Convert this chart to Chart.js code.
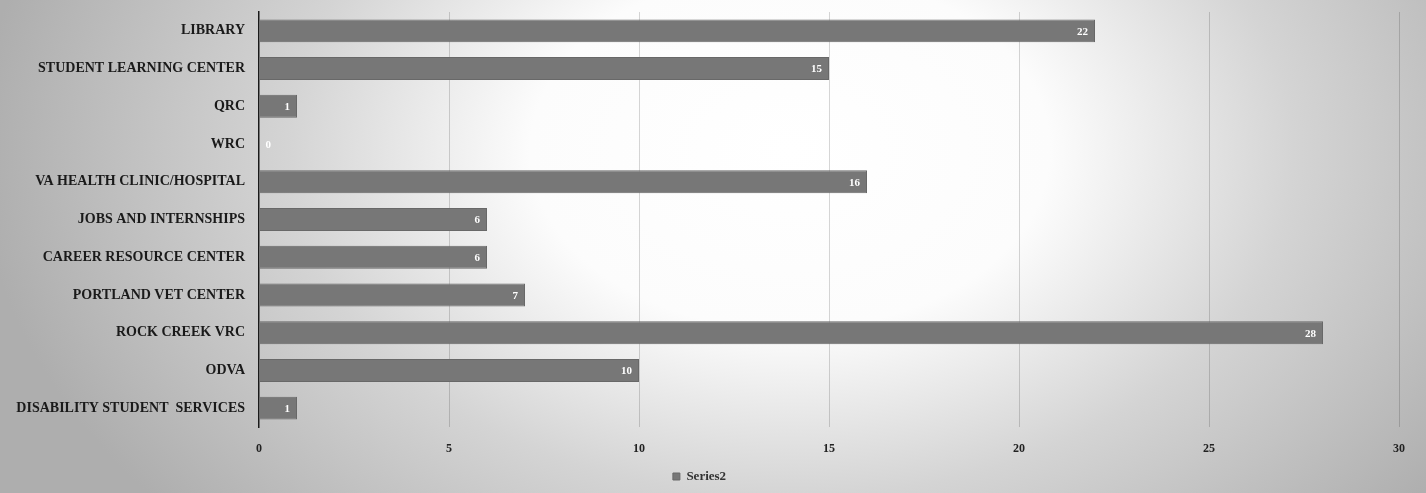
<!DOCTYPE html>
<html>
<head>
<meta charset="utf-8">
<script src="https://cdn.jsdelivr.net/npm/chart.js@4"></script>
<style>
  body { margin: 0; background: #b4b4b4; }
  #wrap { width: 1426px; height: 493px; }
</style>
</head>
<body>
<div id="wrap"><canvas id="BarChart"></canvas></div>
<script>
const categories = [
  "LIBRARY",
  "STUDENT LEARNING CENTER",
  "QRC",
  "WRC",
  "VA HEALTH CLINIC/HOSPITAL",
  "JOBS AND INTERNSHIPS",
  "CAREER RESOURCE CENTER",
  "PORTLAND VET CENTER",
  "ROCK CREEK VRC",
  "ODVA",
  "DISABILITY STUDENT  SERVICES",
];
const series2 = [22, 15, 1, 0, 16, 6, 6, 7, 28, 10, 1];
const xTicks = [0, 5, 10, 15, 20, 25, 30];

const serif = "'Liberation Serif', 'DejaVu Serif', serif";

// soft grey backdrop with a bright spot behind the upper middle of the plot
const backdrop = {
  id: "backdrop",
  beforeDraw(chart) {
    const ctx = chart.ctx;
    const w = chart.width, h = chart.height;
    ctx.save();
    ctx.fillStyle = "#aeaeae";
    ctx.fillRect(0, 0, w, h);
    ctx.translate(790, 150);
    ctx.scale(1.45, 1);
    const g = ctx.createRadialGradient(0, 0, 0, 0, 0, 560);
    g.addColorStop(0, "#ffffff");
    g.addColorStop(0.32, "#fcfcfc");
    g.addColorStop(0.62, "#d4d4d4");
    g.addColorStop(1, "#aeaeae");
    ctx.fillStyle = g;
    ctx.fillRect(-800, -200, 1600, 700);
    ctx.restore();
  },
};

// value labels inside the end of each bar
const barValues = {
  id: "barValues",
  afterDatasetsDraw(chart) {
    const ctx = chart.ctx;
    const meta = chart.getDatasetMeta(0);
    const base = chart.scales.x.getPixelForValue(0);
    ctx.save();
    ctx.font = "bold 11px " + serif;
    ctx.fillStyle = "#ffffff";
    ctx.textAlign = "right";
    ctx.textBaseline = "middle";
    meta.data.forEach((bar, i) => {
      const x = Math.max(bar.x - 7, base + 12);
      ctx.fillText(String(series2[i]), x, bar.y + 1);
    });
    ctx.restore();
  },
};

const ctx = document.getElementById("BarChart").getContext("2d");
new Chart(ctx, {
  type: "bar",
  data: {
    labels: categories,
    datasets: [
      {
        label: "Series2",
        data: series2,
        backgroundColor: "#777777",
        borderColor: "#686868",
        borderWidth: 1,
        barPercentage: 0.78,
        categoryPercentage: 0.78,
      },
    ],
  },
  options: {
    indexAxis: "y",
    responsive: true,
    maintainAspectRatio: false,
    animation: false,
    layout: { padding: { top: 12, right: 27, bottom: 0, left: 0 } },
    scales: {
      x: {
        min: 0,
        max: 30,
        afterBuildTicks(scale) {
          scale.ticks = xTicks.map((v) => ({ value: v }));
        },
        afterFit(scale) {
          scale.height = 33;
        },
        grid: {
          drawTicks: false,
          color: (c) => (c.tick && c.tick.value === 0 ? "rgba(0,0,0,0)" : "rgba(0,0,0,0.16)"),
        },
        border: { display: false },
        ticks: {
          padding: 15,
          color: "#222",
          font: { family: serif, size: 12, weight: "bold" },
        },
      },
      y: {
        afterFit(scale) {
          scale.width = 259;
          scale.paddingTop = 0;
          scale.paddingBottom = 0;
        },
        grid: { display: false, drawTicks: false },
        border: { display: true, color: "#1a1a1a", width: 1.5 },
        ticks: {
          padding: 14,
          color: "#1a1a1a",
          font: { family: serif, size: 14, weight: "bold" },
        },
      },
    },
    plugins: {
      legend: {
        position: "bottom",
        labels: {
          boxWidth: 7,
          boxHeight: 7,
          padding: 10,
          color: "#333",
          font: { family: serif, size: 13, weight: "bold" },
        },
      },
      tooltip: { enabled: false },
    },
  },
  plugins: [backdrop, barValues],
});
</script>
</body>
</html>
